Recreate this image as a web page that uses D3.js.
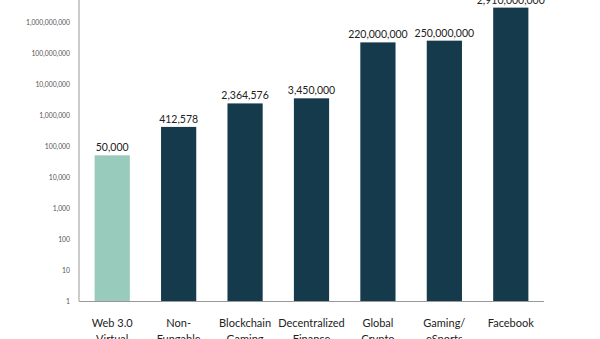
<!DOCTYPE html>
<html><head><meta charset="utf-8">
<script src="https://cdn.jsdelivr.net/npm/d3@7"></script>
<style>body{margin:0;background:#fff}svg{display:block}</style>
</head><body>
<script>
const categories = [["Web 3.0","Virtual","Worlds"],["Non-","Fungable","Tokens"],["Blockchain","Gaming"],["Decentralized","Finance"],["Global","Crypto","Users"],["Gaming/","eSports"],["Facebook"]];
const values = [50000, 412578, 2364576, 3450000, 220000000, 250000000, 2910000000];
const tickValues = [1,10,100,1000,10000,100000,1000000,10000000,100000000,1000000000];
const colors = ["#98cbbb","#153a4b","#153a4b","#153a4b","#153a4b","#153a4b","#153a4b"];

const W=600,H=339;
const svg=d3.select("body").append("svg").attr("width",W).attr("height",H);
const x=d3.scaleBand().domain(d3.range(values.length)).range([79,544]).paddingInner(0.47).paddingOuter(0.235);
const y=d3.scaleLog().domain([1,1e10]).range([301,-9]);

// bars
svg.selectAll("rect.bar").data(values).join("rect").attr("class","bar")
  .attr("x",(d,i)=>x(i)).attr("width",x.bandwidth())
  .attr("y",d=>y(d)).attr("height",d=>y(1)-y(d))
  .attr("fill",(d,i)=>colors[i]);

// value labels
svg.selectAll("text.val").data(values).join("text").attr("class","val")
  .attr("x",(d,i)=>x(i)+x.bandwidth()/2).attr("y",d=>y(d)-4)
  .attr("text-anchor","middle").attr("font-family","Lato, sans-serif").attr("font-size",10.5)
  .attr("fill","#222").text(d=>d3.format(",")(d));

// y axis
const ya=d3.axisLeft(y).tickValues(tickValues).tickFormat(d3.format(",")).tickSize(0).tickPadding(9);
const gy=svg.append("g").attr("transform","translate(79,0)").call(ya);
gy.select(".domain").remove();
gy.selectAll("text").attr("font-family","Lato, sans-serif").attr("font-size",6.8).attr("fill","#555");
svg.append("line").attr("x1",79).attr("x2",79).attr("y1",0).attr("y2",301).attr("stroke","#999").attr("stroke-width",1);

// x axis
svg.append("line").attr("x1",79).attr("x2",544).attr("y1",301.5).attr("y2",301.5).attr("stroke","#999").attr("stroke-width",1);
const gx=svg.selectAll("text.cat").data(categories).join("text").attr("class","cat")
  .attr("x",(d,i)=>x(i)+x.bandwidth()/2).attr("y",327)
  .attr("text-anchor","middle").attr("font-family","Lato, sans-serif").attr("font-size",11)
  .attr("fill","#222");
gx.selectAll("tspan").data(d=>d).join("tspan")
  .attr("x",function(){return this.parentNode.getAttribute("x");})
  .attr("dy",(d,j)=>j===0?0:15.5).text(d=>d);
</script>
</body></html>
